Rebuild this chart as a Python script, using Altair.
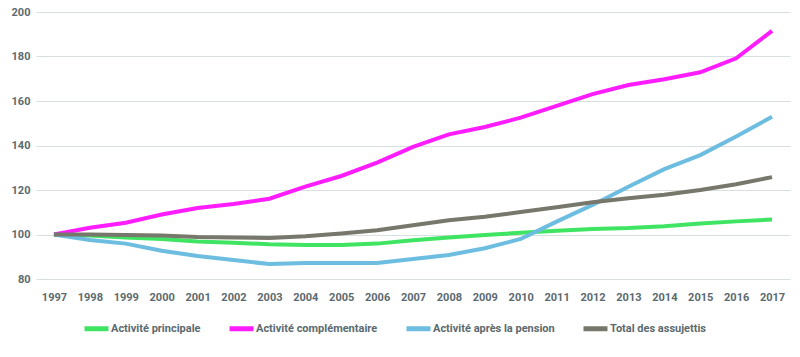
import altair as alt
import pandas as pd

years = [str(y) for y in range(1997, 2018)]

principale = [100, 99.5, 98.6, 98.0, 96.9, 96.3, 95.6, 95.3, 95.3, 95.9, 97.4,
              98.7, 99.8, 100.8, 101.7, 102.5, 102.9, 103.7, 104.9, 105.9, 106.7]
complementaire = [100, 103.0, 105.3, 109.0, 111.9, 113.7, 116.1, 121.5, 126.3, 132.3, 139.4,
                  145.0, 148.3, 152.5, 157.8, 163.1, 167.2, 169.8, 172.9, 179.2, 191.5]
apres_pension = [100, 97.5, 95.9, 92.7, 90.3, 88.5, 86.7, 87.2, 87.2, 87.2, 89.0,
                 90.8, 93.8, 98.0, 105.8, 113.3, 121.5, 129.4, 135.7, 144.0, 152.9]
total = [100, 100.0, 99.8, 99.6, 98.9, 98.7, 98.4, 99.2, 100.4, 101.9, 104.2,
         106.4, 108.0, 110.1, 112.2, 114.5, 116.3, 117.9, 120.0, 122.6, 125.8]

series_names = ["Activité principale", "Activité complémentaire",
                "Activité après la pension", "Total des assujettis"]
series_values = [principale, complementaire, apres_pension, total]
series_colors = ["#3fe462", "#ff1cff", "#6cbde0", "#77776b"]

rows = []
for name, vals in zip(series_names, series_values):
    for y, v in zip(years, vals):
        rows.append({"year": y, "value": v, "series": name})
df = pd.DataFrame(rows)

FONT = "Roboto"
LABEL_COLOR = "#5b6a6e"

chart = alt.Chart(df).mark_line(strokeWidth=4).encode(
    x=alt.X("year:O", scale=alt.Scale(type="point", padding=0.5),
            axis=alt.Axis(title=None, labelAngle=0, domain=False, ticks=False,
                          grid=False, labelPadding=12)),
    y=alt.Y("value:Q", scale=alt.Scale(domain=[80, 200], nice=False, zero=False),
            axis=alt.Axis(title=None, values=[80, 100, 120, 140, 160, 180, 200],
                          domain=False, ticks=False, labelPadding=6,
                          gridColor="#d8dfdf", gridWidth=1.2)),
    color=alt.Color("series:N",
                    scale=alt.Scale(domain=series_names, range=series_colors),
                    legend=alt.Legend(title=None, orient="none", direction="horizontal",
                                      legendX=46, legendY=302,
                                      symbolType="stroke", symbolSize=576,
                                      symbolStrokeWidth=5, labelOffset=0,
                                      columnPadding=18)),
    order=alt.Order("year:O"),
).properties(
    width=754, height=267,
    autosize=alt.AutoSizeParams(type="none"),
    padding={"left": 36, "top": 12, "right": 10, "bottom": 78},
).configure_view(stroke=None).configure_axis(
    labelFont=FONT, labelFontSize=11, labelFontWeight="bold", labelColor=LABEL_COLOR,
).configure_legend(
    labelFont=FONT, labelFontSize=11, labelFontWeight="bold", labelColor=LABEL_COLOR,
    labelLimit=300,
)

chart.save("out.html", embed_options={"renderer": "svg", "actions": False})
